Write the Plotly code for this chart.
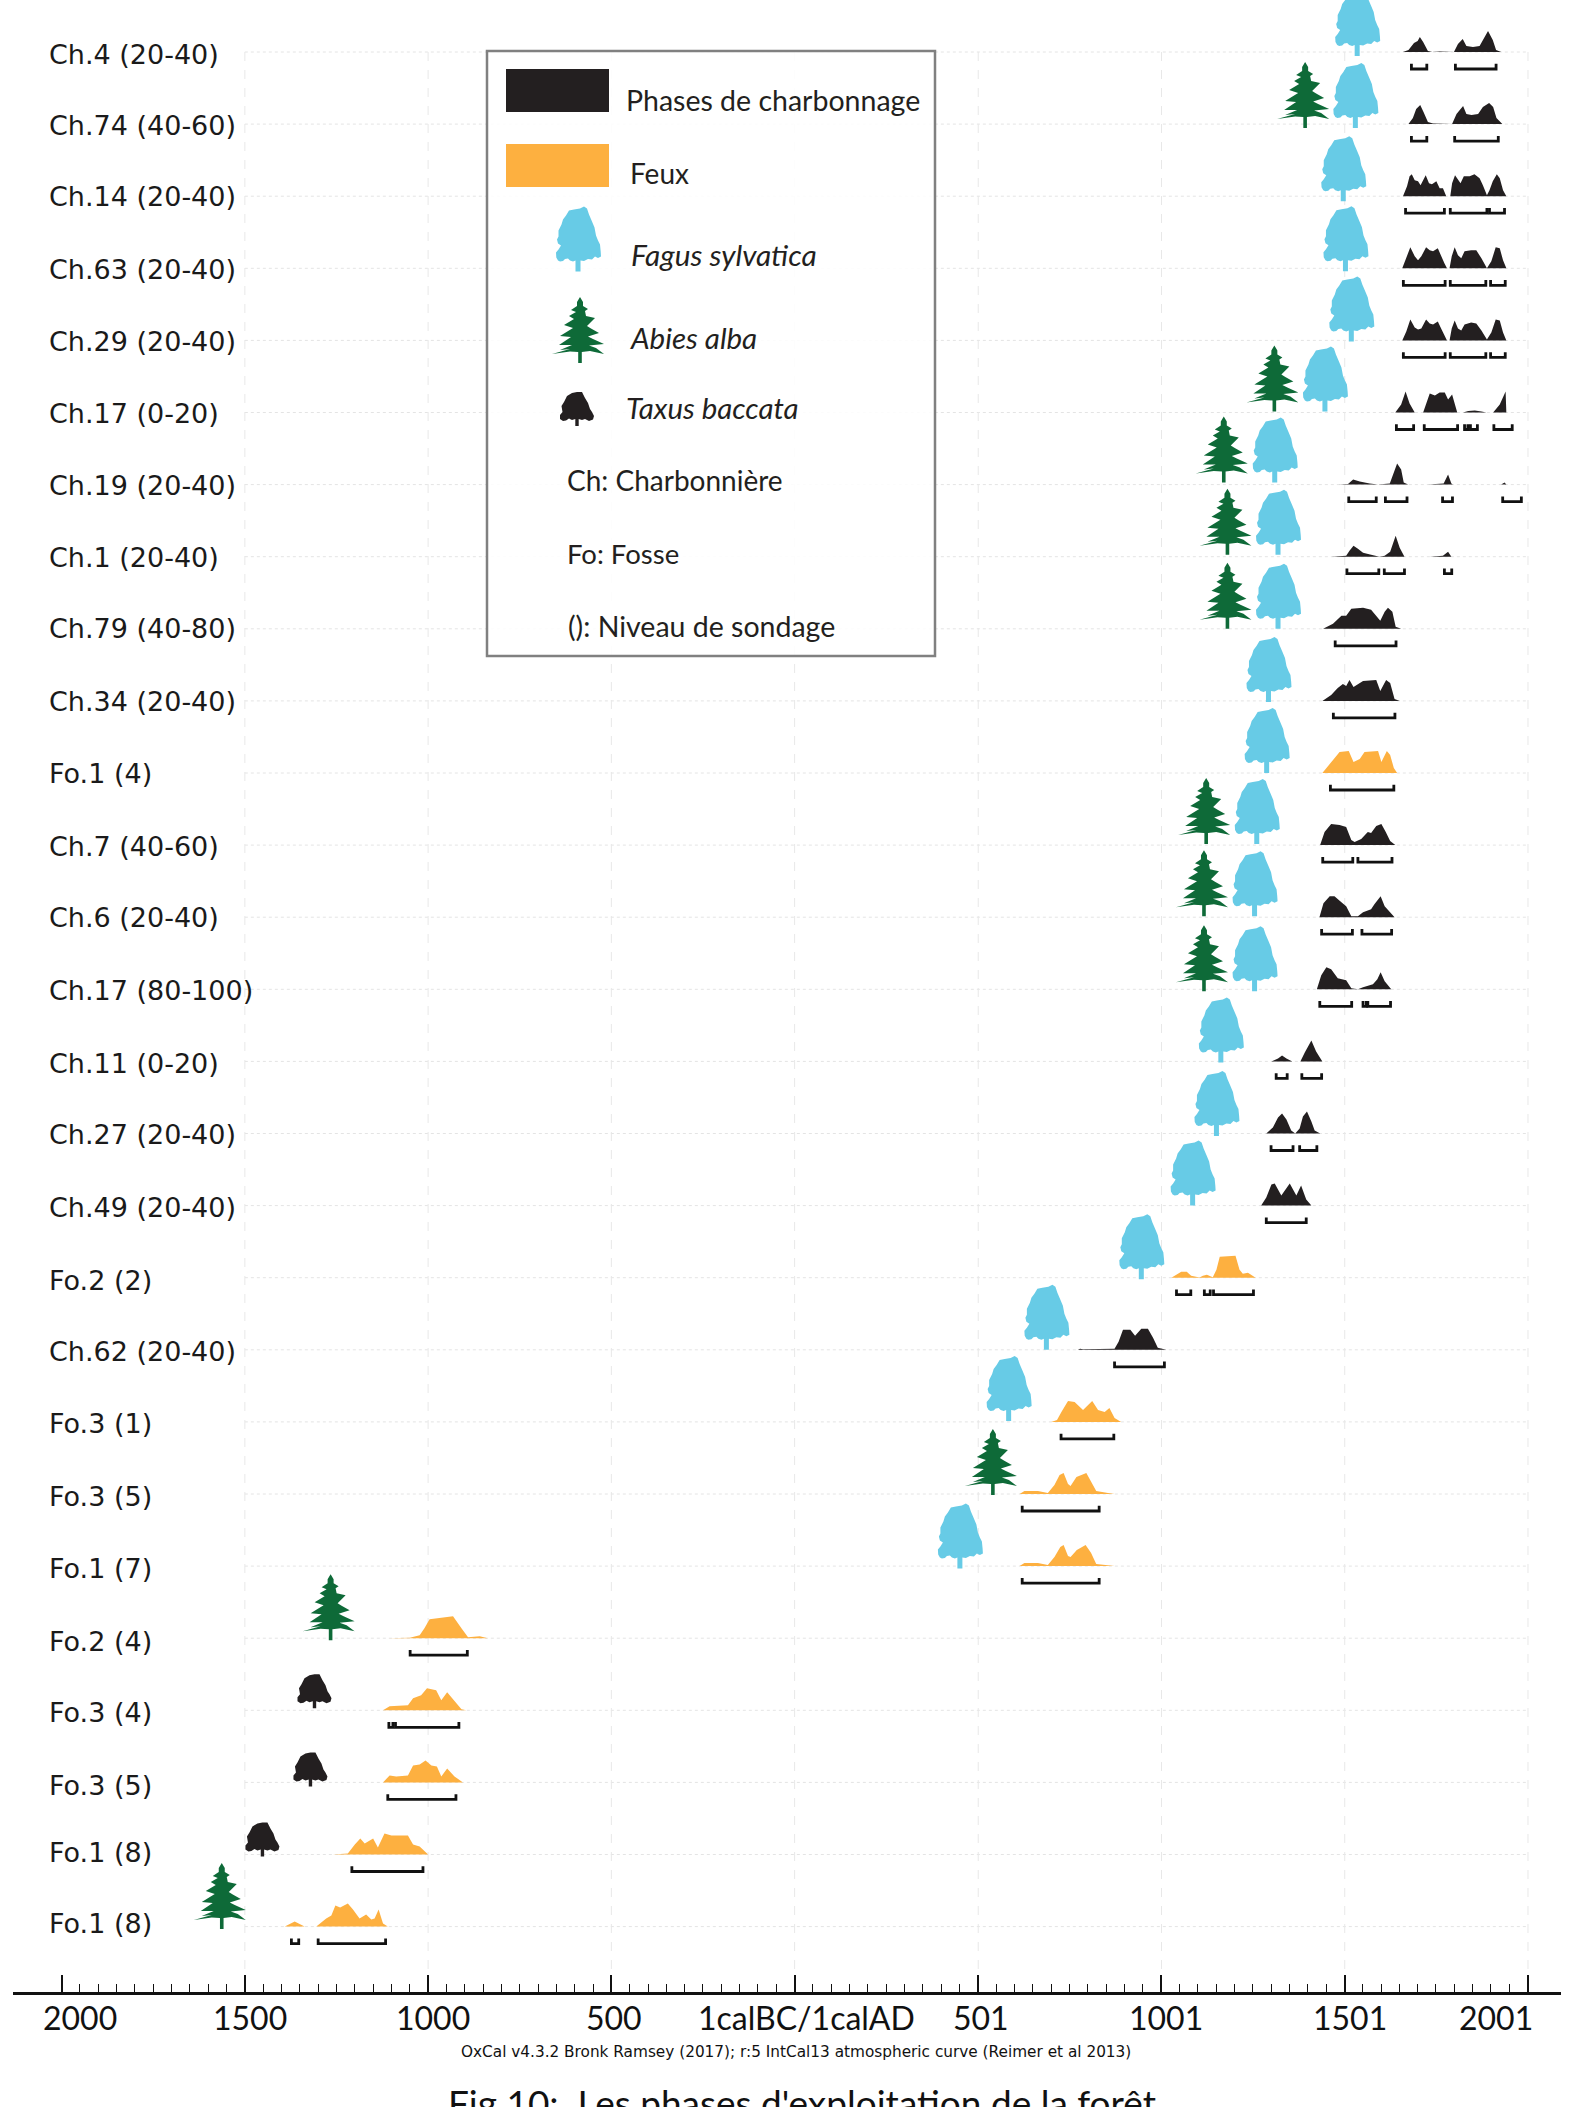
import plotly.graph_objects as go

# ---------- data ----------
row_labels = ["Ch.4 (20-40)", "Ch.74 (40-60)", "Ch.14 (20-40)", "Ch.63 (20-40)", "Ch.29 (20-40)",
              "Ch.17 (0-20)", "Ch.19 (20-40)", "Ch.1 (20-40)", "Ch.79 (40-80)", "Ch.34 (20-40)",
              "Fo.1 (4)", "Ch.7 (40-60)", "Ch.6 (20-40)", "Ch.17 (80-100)", "Ch.11 (0-20)",
              "Ch.27 (20-40)", "Ch.49 (20-40)", "Fo.2 (2)", "Ch.62 (20-40)", "Fo.3 (1)",
              "Fo.3 (5)", "Fo.1 (7)", "Fo.2 (4)", "Fo.3 (4)", "Fo.3 (5)", "Fo.1 (8)", "Fo.1 (8)"]

major_years = [-2000, -1500, -1000, -500, 0, 501, 1001, 1501, 2001]
major_labels = ["2000", "1500", "1000", "500", "1calBC/1calAD", "501", "1001", "1501", "2001"]

curve_years = [
    [1660,1675,1690,1700,1706,1715,1728,1740,1760,1790,1799,1810,1823,1833,1851,1869,1878,1892,1905,1914,1928],
    [1675,1687,1696,1707,1716,1728,1742,1769,1794,1806,1824,1833,1847,1865,1878,1895,1906,1915,1931],
    [1660,1671,1678,1684,1692,1701,1708,1714,1722,1731,1739,1751,1760,1769,1778,1789,1794,1802,1810,1817,1826,1842,1855,1869,1878,1889,1896,1905,1916,1924,1933,1942],
    [1658,1669,1680,1692,1701,1710,1723,1733,1742,1755,1764,1773,1780,1787,1793,1801,1810,1819,1828,1846,1860,1874,1889,1901,1913,1924,1933,1942],
    [1658,1669,1680,1692,1701,1710,1723,1733,1742,1755,1764,1773,1780,1787,1793,1801,1810,1819,1828,1846,1860,1874,1889,1901,1913,1924,1933,1942],
    [1639,1655,1667,1678,1692,1715,1733,1747,1760,1774,1783,1794,1808,1824,1838,1856,1874,1888,1906,1924,1940,1942],
    [1483,1510,1524,1542,1569,1592,1624,1633,1644,1655,1662,1674,1728,1771,1783,1792,1796,1928,1937,1942],
    [1464,1505,1514,1525,1537,1551,1573,1596,1610,1625,1640,1651,1664,1733,1769,1783,1792,1933,1940,1946],
    [1442,1469,1492,1505,1519,1551,1573,1587,1598,1610,1619,1631,1640,1655],
    [1440,1464,1482,1496,1505,1514,1525,1551,1587,1598,1614,1625,1637,1651],
    [1440,1464,1487,1512,1525,1542,1555,1592,1601,1616,1625,1635,1644],
    [1434,1446,1464,1487,1505,1519,1528,1546,1564,1573,1587,1601,1613,1625,1639],
    [1432,1443,1460,1473,1492,1505,1519,1537,1551,1573,1582,1599,1610,1623,1637],
    [1425,1437,1451,1464,1482,1505,1519,1537,1551,1578,1590,1599,1610,1628],
    [1301,1319,1330,1342,1358,1380,1392,1410,1423,1440],
    [1287,1305,1319,1330,1342,1355,1366,1378,1387,1398,1410,1419,1434],
    [1273,1287,1301,1310,1328,1351,1369,1382,1396,1410],
    [1028,1046,1055,1070,1082,1105,1114,1125,1141,1151,1160,1203,1214,1223,1237,1258],
    [773,779,787,859,873,884,896,916,929,946,964,978,991,1014],
    [700,716,728,746,764,787,812,828,846,859,873,891],
    [614,627,664,691,709,723,734,746,753,769,796,809,823,855,873],
    [614,627,664,691,709,725,734,746,753,770,794,809,823,859,873],
    [-1110,-1050,-1023,-1010,-996,-932,-909,-891,-859,-837],
    [-1123,-1105,-1055,-1041,-1019,-1003,-978,-964,-948,-928,-909,-896],
    [-1191,-1123,-1105,-1087,-1055,-1041,-1023,-1007,-991,-976,-964,-948,-928,-905],
    [-1260,-1219,-1200,-1185,-1173,-1150,-1137,-1119,-1100,-1055,-1041,-1023,-1000,-973],
    [-1391,-1364,-1337,-1305,-1278,-1264,-1253,-1240,-1219,-1205,-1187,-1169,-1155,-1146,-1135,-1123,-1110,-1050],
]

curve_density = [
    [0,2,9,11,15,10,1,0,0.5,0,0,8,13,6,5,6,12,21,12,2,0],
    [0,6,15,19,12,2,0.5,0,0,10,18,10,9,10,17,21,17,6,0],
    [0,10,20,22,16,15,11,16,21,13,12,15,8,8,0,0,13,21,16,13,20,20,22,18,11,1,6,15,22,18,6,0],
    [0,10,21,12,8,12,21,18,17,20,12,5,0,0,12,21,13,10,17,18,18,10,0,7,21,20,8,0],
    [0,9,21,13,11,12,21,17,16,19,12,5,0,0,12,20,12,10,16,18,17,10,1,8,21,20,8,0],
    [0,8,21,9,0,0,19,17,20,20,13,18,0,0,1.5,2,1,0,0,8,21,0],
    [0,0.5,5,3,1,0,1,10,21,15,2,0,0,1,10,1,0,0,2,0],
    [0,1,6,11,8,4,2,0,1,5,21,9,0,0,1,5,0,0,0.5,0],
    [0,5,13,13,20,21,19,13,8,17,21,17,2,0],
    [0,6,13,17,15,21,14,20,21,10,21,18,2,0],
    [0,11,21,22,11,14,21,22,11,22,18,5,0],
    [0,13,21,20,18,5,3,6,13,12,19,21,13,4,0],
    [0,14,21,21,15,11,1,1,5,8,13,21,11,6,0],
    [0,14,22,20,11,9,1,0,2,5,10,17,8,0],
    [0,3,6,3,0,0,9,21,10,0],
    [0,6,16,20,14,3,0,5,17,22,12,3,0],
    [0,8,21,22,10,22,10,20,6,0],
    [0,4,6,6,2,0.3,2,3,0.5,8,21,22,8,4,5,0],
    [0,1,0.5,0.5,1,8,20,20,14,21,21,12,2,0],
    [0,2,10,21,20,12,21,12,10,14,4,0],
    [0,3,3,1,9,19,21,10,8,17,21,13,3,1,0],
    [0,3,3,1,9,19,21,10,9,16,21,13,2,1,0],
    [0,0.5,3,10,19,22,10,1,2,0],
    [0,4,5,12,15,22,20,10,18,9,1,0],
    [0,0,7,6,7,17,18,22,17,16,6,14,6,0],
    [0,1,10,16,11,16,7,21,19,19,10,8,0,0],
    [0,5,0,0,8,11,21,19,23,17,8,12,7,8,17,3,0,0],
]

date_ranges = [
    [(1683,1725),(1803,1914)],
    [(1683,1725),(1801,1920)],
    [(1667,1773),(1789,1889),(1896,1937)],
    [(1661,1775),(1789,1886),(1899,1939)],
    [(1661,1775),(1789,1886),(1899,1939)],
    [(1642,1689),(1718,1809),(1828,1837),(1844,1863),(1908,1958)],
    [(1512,1587),(1612,1671),(1768,1795),(1932,1983)],
    [(1507,1594),(1609,1664),(1773,1793)],
    [(1475,1641)],
    [(1470,1638)],
    [(1462,1635)],
    [(1441,1523),(1537,1630)],
    [(1438,1522),(1548,1629)],
    [(1433,1520),(1551,1560),(1564,1626)],
    [(1314,1344),(1384,1438)],
    [(1300,1360),(1378,1425)],
    [(1287,1396)],
    [(1042,1081),(1118,1134),(1143,1252)],
    [(873,1009)],
    [(727,871)],
    [(621,831)],
    [(621,831)],
    [(-1049,-893)],
    [(-1107,-1096),(-1089,-916)],
    [(-1110,-924)],
    [(-1208,-1014)],
    [(-1373,-1353),(-1300,-1116)],
]

# tree icons: (row, year at the trunk, pixels of trunk foot under the row line)
fagus_trees = [(0,1535,4),(1,1530,4),(2,1497,5),(3,1503,3),(4,1519,1),(5,1447,-1),(6,1310,-2),(7,1319,-2),
               (8,1319,0),(9,1293,1),(10,1288,0),(11,1261,-1),(12,1255,-1),(13,1255,2),(14,1163,1),
               (15,1151,2.5),(16,1086,0),(17,946,1.5),(18,687,0),(19,584,-1),(21,451,2.5)]
abies_trees = [(1,1393,4),(5,1309,-1),(6,1171,-2),(7,1181,-2),(8,1181,0),(11,1123,-1),(12,1117,-1),(13,1117,2),
               (20,541,1),(22,-1266,2),(26,-1563,2.5)]
taxus_trees = [(23,-1310,-2),(24,-1321,4),(25,-1452,2)]

legend_entries = ["Phases de charbonnage", "Feux", "Fagus sylvatica", "Abies alba", "Taxus baccata",
                  "Ch: Charbonnière", "Fo: Fosse", "(): Niveau de sondage"]
credit_text = "OxCal v4.3.2 Bronk Ramsey (2017); r:5 IntCal13 atmospheric curve (Reimer et al 2013)"
caption_text = "Fig 10:  Les phases d'exploitation de la forêt"

# ---------- styling and layout constants ----------
W, H = 1582, 2107
L, R, AXIS_Y = 13, 1561, 1992
ROW_PX = 72.1
TOP_ROW_PX = 52
PX_PER_YEAR = 0.3665
X0 = 794.6
BLACK, ORANGE, BEECH, FIR = "#231f20", "#fdb040", "#67cbe6", "#0e6a38"
FONT = "Lato"
ROW_FONT = "DejaVu Sans"
# vertical centres of the row names (they do not sit exactly on the row spacing in the original)
LABEL_PX = [54, 125, 196, 269, 341, 413, 485, 558, 629, 702, 774, 847, 918, 991, 1063,
            1134, 1207, 1280, 1351, 1423, 1496, 1568, 1641, 1712, 1785, 1852, 1923]

FAGUS = [(-2.5,0),(-2.5,11),(-5,10),(-8,11),(-10,13),(-13,12.5),(-15,10.5),(-18,10),(-20,11),(-21.7,14),(-22,19),
         (-19.5,22),(-17,26),(-20,28),(-21,32),(-19.5,35),(-19.5,41),(-16.5,47),(-15,52),(-12,56),(-9,61),(-4,62),
         (2,63),(6,65),(9,63),(11,57),(14,50),(16.5,44),(18,36),(20,31),(22,27),(22.7,20),(23,15),(20,13.5),(17,15),
         (14,12),(10,12.5),(6,10.5),(2.5,11),(2.5,0)]
ABIES = [(1.8,0),(1.8,11),(10,12),(24,9),(16,15),(9,17.5),(24,19),(13,24),(8,26.5),(19,30),(11,34.5),(7,37),
         (15,45),(6,47),(5,52),(8,54),(3,57),(3,61),(0,66),(-3,61),(-3,57),(-9,53),(-4,51),(-11,47),(-6,44),(-16,38),
         (-7,35),(-20,27),(-9,26),(-21,18),(-8,18),(-20,13),(-10,14),(-28,9),(-10,11.5),(-1.8,11),(-1.8,0)]
TAXUS = [(-1.7,0),(-1.7,7),(-5,6),(-8,7.5),(-11,5.5),(-14,5),(-17,7),(-17,11),(-14.5,14),(-15.5,20),(-13,24),(-10,30),
         (-5,33),(0,34),(5,34),(8,28),(11,23),(13,17),(15,14),(17,10),(16,6.5),(12,5),(8,7),(5,6),(1.7,7),(1.7,0)]


def icon_path(points):
    return "M" + "L".join(f"{x},{y}" for x, y in points) + "Z"


def px_x(px):
    return (px - L) / (R - L)


def px_y(py):
    return 1 - py / AXIS_Y


fig = go.Figure()
shapes = []
annotations = []

# grid
for i in range(len(row_labels)):
    shapes.append(dict(type="line", layer="below", xref="x", yref="y", x0=-1500, x1=2001, y0=i, y1=i,
                       line=dict(color="#e4e4e4", width=1, dash="dot")))
for yr in major_years[1:]:
    shapes.append(dict(type="line", layer="below", xref="x", yref="y", x0=yr, x1=yr, y0=0,
                       y1=(AXIS_Y - TOP_ROW_PX) / ROW_PX, line=dict(color="#e8e8e8", width=1, dash="dash")))

# probability distributions and date brackets
for i, label in enumerate(row_labels):
    colour = ORANGE if label.startswith("Fo") else BLACK
    fig.add_trace(go.Scatter(
        x=curve_years[i], y=[i - d / ROW_PX for d in curve_density[i]], mode="lines", name=label,
        line=dict(width=0, color=colour), fill="toself", fillcolor=colour, showlegend=False, hoverinfo="x+name"))
    bx, by = [], []
    for a, b in date_ranges[i]:
        bx += [a, a, b, b, None]
        by += [i + 11.8 / ROW_PX, i + 17 / ROW_PX, i + 17 / ROW_PX, i + 11.8 / ROW_PX, None]
    fig.add_trace(go.Scatter(x=bx, y=by, mode="lines", name=label, showlegend=False, hoverinfo="skip",
                             line=dict(color="#111111", width=2.8)))
    annotations.append(dict(xref="paper", yref="paper", x=px_x(47), y=px_y(LABEL_PX[i]), text=label, showarrow=False,
                            xanchor="left", yanchor="middle", font=dict(family=ROW_FONT, size=27, color="#1a1a1a")))


def add_icons(trees, points, colour):
    for row, year, foot in trees:
        shapes.append(dict(type="path", xref="x", yref="y", xsizemode="pixel", ysizemode="pixel",
                           xanchor=year, yanchor=row + foot / ROW_PX, path=icon_path(points),
                           fillcolor=colour, line=dict(width=0)))


add_icons(fagus_trees, FAGUS, BEECH)
add_icons(abies_trees, ABIES, FIR)
add_icons(taxus_trees, TAXUS, BLACK)

# legend box
shapes.append(dict(type="rect", xref="paper", yref="paper", x0=px_x(487), x1=px_x(935), y0=px_y(656), y1=px_y(51),
                   fillcolor="rgba(255,255,255,0.88)", line=dict(color="#808080", width=2.5)))
for colour, top, bottom in [(BLACK, 69, 112), (ORANGE, 144, 187)]:
    shapes.append(dict(type="rect", xref="paper", yref="paper", x0=px_x(506), x1=px_x(609), y0=px_y(bottom),
                       y1=px_y(top), fillcolor=colour, line=dict(width=0)))
for points, colour, px, py in [(FAGUS, BEECH, 578, 271.6), (ABIES, FIR, 580, 363), (TAXUS, BLACK, 577, 426)]:
    shapes.append(dict(type="path", xref="paper", yref="paper", xsizemode="pixel", ysizemode="pixel",
                       xanchor=px_x(px), yanchor=px_y(py), path=icon_path(points), fillcolor=colour,
                       line=dict(width=0)))
legend_pos = [(624, 100), (628, 173), (629, 254), (628, 337), (623.5, 407), (565, 480), (564.5, 553), (565.5, 626)]
legend_sizes = [28.5, 28, 29.8, 29.5, 29.4, 28, 27.5, 28.5]
for text, (px, py), size in zip(legend_entries, legend_pos, legend_sizes):
    shown = f"<i>{text}</i>" if text.split()[0] in ("Fagus", "Abies", "Taxus") else text
    annotations.append(dict(xref="paper", yref="paper", x=px_x(px), y=px_y(py), text=shown, showarrow=False,
                            xanchor="left", yanchor="middle", font=dict(family=FONT, size=size, color=BLACK)))

# axis labels, set off from their ticks as in the original
label_shift = [18, 5, 5, 3, 12, 3, 5, 5, -32]
for yr, text, shift in zip(major_years, major_labels, label_shift):
    annotations.append(dict(xref="x", yref="paper", x=yr, xshift=shift, y=px_y(2018), text=text, showarrow=False,
                            xanchor="center", yanchor="middle", font=dict(family=FONT, size=32, color="#111111")))
annotations.append(dict(xref="paper", yref="paper", x=px_x(796), y=px_y(2052), text=credit_text, showarrow=False,
                        xanchor="center", yanchor="middle", font=dict(family=ROW_FONT, size=15.3, color="#111111")))
annotations.append(dict(xref="paper", yref="paper", x=px_x(802), y=px_y(2078), text=caption_text, showarrow=False,
                        xanchor="center", yanchor="top", font=dict(family=FONT, size=37, color="#111111")))

minor_years = [y for y in range(-2000, 2001, 50) if y % 500 != 0]

fig.update_layout(
    width=W, height=H, autosize=False, margin=dict(l=L, r=W - R, t=0, b=H - AXIS_Y, pad=0),
    plot_bgcolor="white", paper_bgcolor="white", showlegend=False,
    shapes=shapes, annotations=annotations,
    xaxis=dict(range=[(L - X0) / PX_PER_YEAR, (R - X0) / PX_PER_YEAR], tickmode="array", tickvals=major_years,
               ticktext=[""] * len(major_years), ticks="inside", ticklen=17, tickwidth=2, tickcolor="#111111",
               minor=dict(tickmode="array", tickvals=minor_years, ticks="inside", ticklen=8, tickwidth=1.2,
                          tickcolor="#111111"),
               showline=True, linecolor="#111111", linewidth=3, showgrid=False, zeroline=False),
    yaxis=dict(range=[(AXIS_Y - TOP_ROW_PX) / ROW_PX, -TOP_ROW_PX / ROW_PX], visible=False, showgrid=False,
               zeroline=False),
)

fig.write_html("out.html", config=dict(displayModeBar=False),
               post_script="document.body.style.margin='0';document.body.style.overflow='hidden';")
